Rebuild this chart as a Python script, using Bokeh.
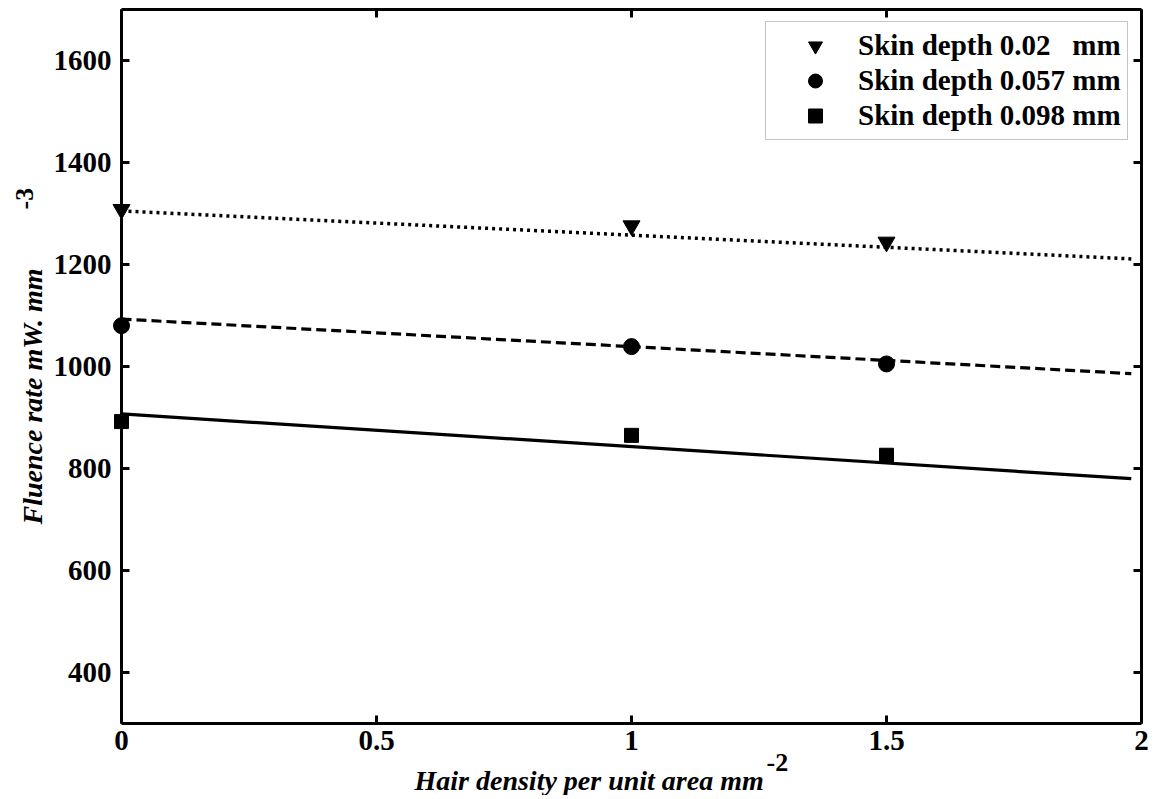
from math import pi
from bokeh.plotting import figure
from bokeh.models import (Range1d, LinearAxis, FixedTicker, Legend, LegendItem,
                          CustomJSTickFormatter)
from bokeh.core.properties import value
from bokeh.embed import file_html
from bokeh.resources import INLINE

# ---------------- data ----------------
hair_density = [0, 1, 1.5]
skin_002 = [1308, 1276, 1244]
skin_0057 = [1080, 1039, 1005]
skin_0098 = [892, 865, 826]

fit_x = [0, 1.98]
fit_002 = [1305, 1211]
fit_0057 = [1093, 986]
fit_0098 = [907, 780]

x_ticks = [0, 0.5, 1, 1.5, 2]
x_tick_labels = ["0", "0.5", "1", "1.5", "2"]
y_ticks = [400, 600, 800, 1000, 1200, 1400, 1600]
y_tick_labels = ["400", "600", "800", "1000", "1200", "1400", "1600"]

series_names = ["Skin depth 0.02   mm", "Skin depth 0.057 mm", "Skin depth 0.098 mm"]

x_title = "Hair density per unit area  mm"
x_title_sup = "-2"
y_title = "Fluence rate mW. mm"
y_title_sup = "-3"

X_MIN, X_MAX = 0, 2
Y_MIN, Y_MAX = 300, 1700

FONT = "Liberation Serif"

p = figure(width=1150, height=795, output_backend="svg", toolbar_location=None,
           x_range=Range1d(X_MIN, X_MAX), y_range=Range1d(Y_MIN, Y_MAX),
           x_axis_location=None, y_axis_location=None,
           min_border_left=121, min_border_right=9, min_border_top=9,
           min_border_bottom=72)
p.outline_line_color = None
p.background_fill_color = "white"
p.border_fill_color = "white"
for g in p.grid:
    g.visible = False


def styled_axis(ticks, labels, show_labels):
    ax = LinearAxis(ticker=FixedTicker(ticks=ticks))
    ax.axis_line_width = 3
    ax.axis_line_color = "black"
    ax.major_tick_line_width = 3
    ax.major_tick_line_color = "black"
    ax.major_tick_in = 8
    ax.major_tick_out = 0
    ax.minor_tick_line_color = None
    if show_labels:
        ax.major_label_overrides = {t: l for t, l in zip(ticks, labels)}
        ax.major_label_text_font = FONT
        ax.major_label_text_font_style = "bold"
        ax.major_label_text_font_size = "29px"
        ax.major_label_text_color = "black"
    else:
        ax.formatter = CustomJSTickFormatter(code="return ''")
        ax.major_label_text_font_size = "1px"
        ax.major_label_standoff = 0
    return ax


left = styled_axis(y_ticks, y_tick_labels, True)
left.major_label_standoff = 10
bottom = styled_axis(x_ticks, x_tick_labels, True)
bottom.major_label_standoff = 7
right = styled_axis(y_ticks, y_tick_labels, False)
top = styled_axis(x_ticks, x_tick_labels, False)
p.add_layout(left, "left")
p.add_layout(bottom, "below")
p.add_layout(right, "right")
p.add_layout(top, "above")

# fitted lines
p.line(fit_x, fit_002, line_color="black", line_width=3.5, line_dash="3 4")
p.line(fit_x, fit_0057, line_color="black", line_width=3.2, line_dash="10 5")
p.line(fit_x, fit_0098, line_color="black", line_width=3.2)

# measured points (overlay level so the markers on the axis are not clipped)
r1 = p.scatter(hair_density, skin_002, marker="inverted_triangle", size=17,
               fill_color="black", line_color="black", level="overlay")
r2 = p.scatter(hair_density, skin_0057, marker="circle", size=16,
               fill_color="black", line_color="black", level="overlay")
r3 = p.scatter(hair_density, skin_0098, marker="square", size=14,
               fill_color="black", line_color="black", level="overlay")

legend = Legend(items=[LegendItem(label=series_names[0], renderers=[r1]),
                       LegendItem(label=series_names[1], renderers=[r2]),
                       LegendItem(label=series_names[2], renderers=[r3])],
                location=(644, 583), margin=0, padding=6, spacing=0,
                glyph_width=86, glyph_height=35, label_height=35,
                label_standoff=0,
                label_text_font=FONT, label_text_font_style="bold",
                label_text_font_size="29px", label_text_color="black",
                border_line_color="#8c8c8c", border_line_width=1,
                background_fill_color="white", background_fill_alpha=1)
p.add_layout(legend)

# axis titles (text glyphs anchored at the frame's lower-left corner,
# offset in screen pixels; overlay level so they are not clipped)
def title_text(txt, dx, dy, angle, style, size):
    p.text(x=[X_MIN], y=[Y_MIN], text=[txt], x_offset=dx, y_offset=dy,
           angle=angle, text_align="left", text_baseline="alphabetic",
           text_font=value(FONT), text_font_style=style,
           text_font_size=value(size), text_color="black", level="overlay")


title_text(y_title, -89, -199, pi / 2, "bold italic", "28px")
title_text(y_title_sup, -97, -514, pi / 2, "bold", "26px")
title_text(x_title, 293, 57, 0, "bold italic", "28px")
title_text(x_title_sup, 645, 39, 0, "bold", "26px")

open("out.html", "w").write(file_html(p, INLINE))
